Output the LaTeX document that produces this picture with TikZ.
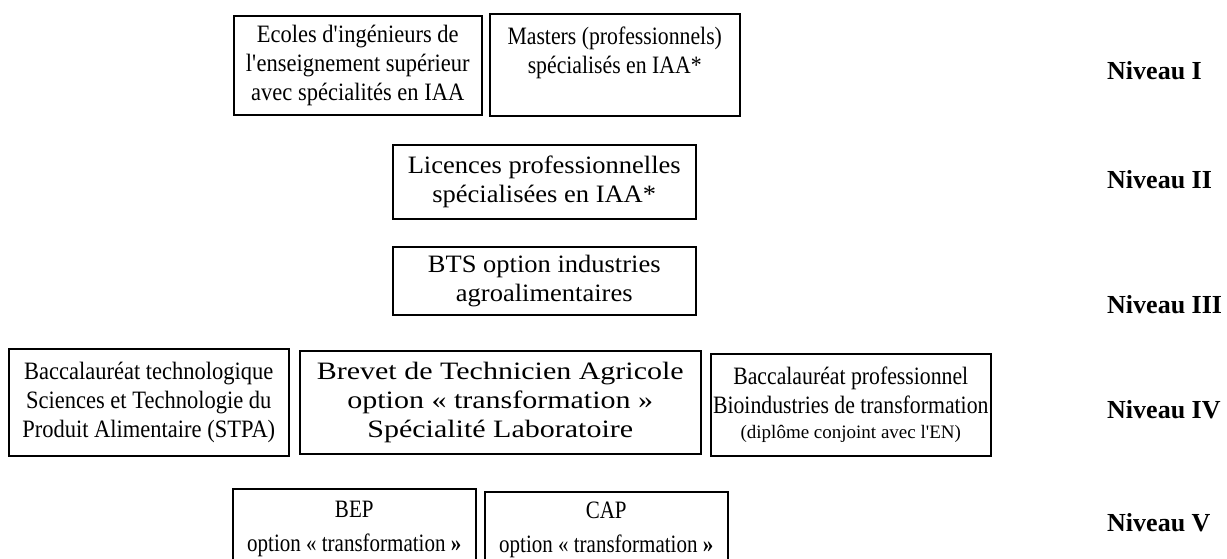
\documentclass[tikz,border=0pt]{standalone}
\usepackage{fontspec}
\setmainfont{Liberation Serif}
\newfontfamily\stA[FakeStretch=0.87]{Liberation Serif}
\newfontfamily\stB[FakeStretch=0.90]{Liberation Serif}
\newfontfamily\stC[FakeStretch=1.06]{Liberation Serif}
\newfontfamily\stD[FakeStretch=1.20]{Liberation Serif}
\newfontfamily\stE[FakeStretch=0.84]{Liberation Serif}
\newcommand\aq{\textquotesingle}
\begin{document}
\begin{tikzpicture}[x=1pt,y=-1pt,
  box/.style={draw, line width=1.5pt, align=center, inner sep=0pt, anchor=north west},
  fsz/.style={font=#1\fontsize{25}{29}\selectfont},
  niv/.style={anchor=west, inner sep=0pt, font=\fontsize{26}{30}\selectfont\bfseries}]
\useasboundingbox (0,0) rectangle (1227,558);
\clip (0,0) rectangle (1227,558);
% Niveau I
\node[box, fsz=\stB, minimum width=248pt, minimum height=99pt] (ecoles) at (233,15)
  {Ecoles d\aq ingénieurs de\\l\aq enseignement supérieur\\avec spécialités en IAA};
\node[box, fsz=\stA, minimum width=250pt, minimum height=102pt] (masters) at (489,13)
  {Masters (professionnels)\\spécialisés en IAA*\\\mbox{}};
% Niveau II
\node[box, fsz=\stC, minimum width=303pt, minimum height=74pt] (licences) at (392,144)
  {Licences professionnelles\\spécialisées en IAA*};
% Niveau III
\node[box, fsz=\stC, minimum width=303pt, minimum height=68pt] (bts) at (392,246)
  {BTS option industries\\agroalimentaires};
% Niveau IV
\node[box, fsz=\stB, minimum width=280pt, minimum height=107pt] (bactech) at (8,348)
  {Baccalauréat technologique\\Sciences et Technologie du\\Produit Alimentaire (STPA)};
\node[box, fsz=\stD, minimum width=401pt, minimum height=103pt] (brevet) at (299,350)
  {Brevet de Technicien Agricole\\option « transformation »\\Spécialité Laboratoire};
\node[box, fsz=\stA, minimum width=280pt, minimum height=102pt] (bacpro) at (710,353)
  {Baccalauréat professionnel\\Bioindustries de transformation\\[-4pt]{\rmfamily\fontsize{19}{22}\selectfont (diplôme conjoint avec l\aq EN)}};
% Niveau V
\node[box, fsz=\stE, minimum width=243pt, minimum height=110pt] (bep) at (232,488)
  {BEP\\[5pt]option « transformation \textbf{»}\\[5pt]\mbox{}};
\node[box, fsz=\stE, minimum width=243pt, minimum height=104pt] (cap) at (484,491)
  {CAP\\[5pt]option « transformation \textbf{»}\\[5pt]\mbox{}};
% level labels
\node[niv] (n1) at (1107,71) {Niveau I};
\node[niv] (n2) at (1107,180) {Niveau II};
\node[niv] (n3) at (1107,305) {Niveau III};
\node[niv] (n4) at (1107,410) {Niveau IV};
\node[niv] (n5) at (1107,523) {Niveau V};
\end{tikzpicture}
\end{document}
